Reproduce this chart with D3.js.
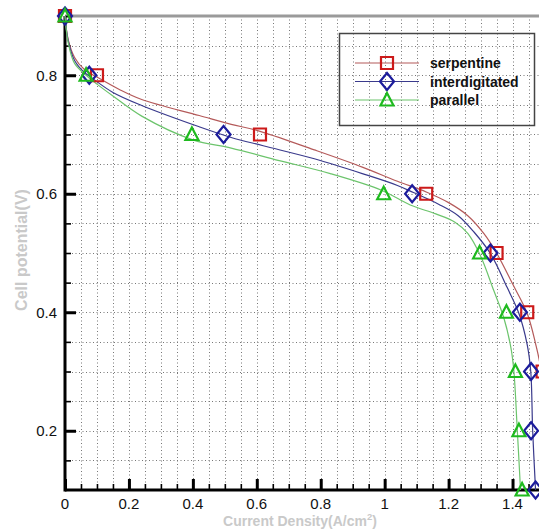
<!DOCTYPE html>
<html>
<head>
<meta charset="utf-8">
<script src="https://cdn.jsdelivr.net/npm/d3@7"></script>
<style>
  html, body { margin: 0; padding: 0; background: #fff; }
  svg { display: block; }
</style>
</head>
<body>
<div id="chart"></div>
<script>
// cell potential levels where markers sit
var markerVolts = [0.9, 0.8, 0.7, 0.6, 0.5, 0.4, 0.3, 0.2, 0.1];
var serpentineJ = [0, 0.10, 0.61, 1.13, 1.35, 1.446, 1.494, 1.53, 1.55];
var interdigitatedJ = [0, 0.076, 0.496, 1.086, 1.331, 1.423, 1.458, 1.458, 1.472];
var parallelJ = [0, 0.066, 0.397, 0.997, 1.297, 1.381, 1.409, 1.42, 1.43];

// curve traces [current density, potential]
var serpentineCurve = [[0, 0.9], [0.01, 0.86], [0.03, 0.83], [0.06, 0.81], [0.1, 0.797], [0.17, 0.776], [0.24, 0.759], [0.42, 0.732], [0.52, 0.717], [0.6, 0.707], [0.78, 0.674], [0.93, 0.645], [1.04, 0.621], [1.13, 0.603], [1.2, 0.585], [1.26, 0.563], [1.31, 0.533], [1.35, 0.5], [1.4, 0.448], [1.446, 0.398], [1.472, 0.347], [1.49, 0.3], [1.505, 0.2], [1.515, 0.1]];
var interdigitatedCurve = [[0, 0.9], [0.01, 0.858], [0.03, 0.825], [0.06, 0.805], [0.085, 0.795], [0.15, 0.771], [0.24, 0.749], [0.42, 0.713], [0.52, 0.695], [0.62, 0.681], [0.78, 0.659], [0.93, 0.634], [1.04, 0.614], [1.09, 0.602], [1.17, 0.582], [1.23, 0.563], [1.28, 0.535], [1.331, 0.499], [1.383, 0.442], [1.42, 0.398], [1.446, 0.345], [1.457, 0.3], [1.463, 0.2], [1.472, 0.1]];
var parallelCurve = [[0, 0.9], [0.01, 0.855], [0.03, 0.82], [0.066, 0.8], [0.1, 0.785], [0.15, 0.765], [0.24, 0.731], [0.4, 0.691], [0.52, 0.677], [0.67, 0.656], [0.83, 0.634], [0.99, 0.606], [1.08, 0.581], [1.16, 0.566], [1.22, 0.552], [1.26, 0.533], [1.3, 0.495], [1.341, 0.437], [1.372, 0.392], [1.395, 0.34], [1.404, 0.302], [1.415, 0.2], [1.425, 0.1]];

var seriesNames = ['serpentine', 'interdigitated', 'parallel'];
var xMajorTicks = [0, 0.2, 0.4, 0.6, 0.8, 1, 1.2, 1.4];
var yMajorTicks = [0.2, 0.4, 0.6, 0.8];
var xTitle = 'Current Density(A/cm';
var yTitle = 'Cell potential(V)';

var width = 539, height = 529;
var x = d3.scaleLinear().domain([0, 1.5]).range([65, 544.5]);
var y = d3.scaleLinear().domain([0.1, 0.9]).range([490, 16]);

var styles = {
    serpentine: { line: '#b45a5a', mark: '#cc1a1a', symbol: 'square', j: serpentineJ, curve: serpentineCurve },
    interdigitated: { line: '#3a3a8c', mark: '#1c1c9c', symbol: 'diamond', j: interdigitatedJ, curve: interdigitatedCurve },
    parallel: { line: '#6cc46c', mark: '#1fba1f', symbol: 'triangle', j: parallelJ, curve: parallelCurve }
};

var svg = d3.select('#chart').append('svg')
    .attr('xmlns', 'http://www.w3.org/2000/svg')
    .attr('width', width)
    .attr('height', height);
svg.append('rect').attr('width', width).attr('height', height).attr('fill', '#fff');

// dotted grid every 0.05
var xGrid = d3.range(0.05, 1.5001, 0.05);
var yGrid = d3.range(0.15, 0.9001, 0.05);
var grid = svg.append('g').attr('stroke', '#777').attr('stroke-width', 1).attr('stroke-dasharray', '1,2.5');
grid.selectAll('line.gx').data(xGrid).enter().append('line')
    .attr('x1', function (d) { return Math.round(x(d)) + 0.5; })
    .attr('x2', function (d) { return Math.round(x(d)) + 0.5; })
    .attr('y1', y(0.9)).attr('y2', y(0.1));
grid.selectAll('line.gy').data(yGrid).enter().append('line')
    .attr('y1', function (d) { return Math.round(y(d)) + 0.5; })
    .attr('y2', function (d) { return Math.round(y(d)) + 0.5; })
    .attr('x1', x(0)).attr('x2', width);

// top frame
svg.append('line').attr('x1', x(0)).attr('x2', width).attr('y1', y(0.9)).attr('y2', y(0.9))
    .attr('stroke', '#9a9a9a').attr('stroke-width', 3);

// axes with inward ticks
var xMinor = d3.range(0.05, 1.5001, 0.05).filter(function (d) { return Math.abs(d * 5 - Math.round(d * 5)) > 1e-6; });
var yMinor = d3.range(0.15, 0.9001, 0.05).filter(function (d) { return Math.abs(d * 5 - Math.round(d * 5)) > 1e-6; });

var xAxisMinor = d3.axisTop(x).tickValues(xMinor).tickSize(6).tickFormat('');
var xAxisMajor = d3.axisTop(x).tickValues(xMajorTicks).tickSize(11).tickFormat('');
var yAxisMinor = d3.axisRight(y).tickValues(yMinor).tickSize(6).tickFormat('');
var yAxisMajor = d3.axisRight(y).tickValues(yMajorTicks).tickSize(11).tickFormat('');

function drawAxis(axis, transform, w) {
    var g = svg.append('g').attr('transform', transform).call(axis);
    g.select('.domain').remove();
    g.selectAll('.tick line').attr('stroke', '#000').attr('stroke-width', w);
    return g;
}
drawAxis(xAxisMinor, 'translate(0,' + y(0.1) + ')', 1.6);
drawAxis(xAxisMajor, 'translate(0,' + y(0.1) + ')', 3);
drawAxis(yAxisMinor, 'translate(' + x(0) + ',0)', 1.6);
drawAxis(yAxisMajor, 'translate(' + x(0) + ',0)', 3);

svg.append('line').attr('x1', x(0)).attr('x2', width).attr('y1', y(0.1)).attr('y2', y(0.1))
    .attr('stroke', '#000').attr('stroke-width', 3);
svg.append('line').attr('x1', x(0)).attr('x2', x(0)).attr('y1', y(0.9)).attr('y2', y(0.1) + 1.5)
    .attr('stroke', '#000').attr('stroke-width', 3);

// tick labels
var font = '"Liberation Sans", Arial, sans-serif';
svg.selectAll('text.xl').data(xMajorTicks).enter().append('text')
    .attr('x', function (d) { return x(d); })
    .attr('y', 509)
    .attr('text-anchor', 'middle')
    .attr('font-family', font).attr('font-size', 15).attr('fill', '#111')
    .text(function (d) { return d3.format('~g')(d); });
svg.selectAll('text.yl').data(yMajorTicks).enter().append('text')
    .attr('x', 57)
    .attr('y', function (d) { return y(d) + 5.5; })
    .attr('text-anchor', 'end')
    .attr('font-family', font).attr('font-size', 15).attr('fill', '#111')
    .text(function (d) { return d3.format('.1f')(d); });

// axis titles
var xt = svg.append('text').attr('x', 300).attr('y', 526).attr('text-anchor', 'middle')
    .attr('font-family', font).attr('font-size', 14).attr('font-weight', 'bold').attr('fill', '#c9c9c9')
    .text(xTitle);
xt.append('tspan').attr('dy', -6).attr('font-size', 9.5).text('2');
xt.append('tspan').attr('dy', 6).text(')');
svg.append('text').attr('transform', 'translate(27,250) rotate(-90)').attr('text-anchor', 'middle')
    .attr('font-family', font).attr('font-size', 16).attr('font-weight', 'bold').attr('fill', '#c9c9c9')
    .text(yTitle);

function symbolPath(kind) {
    if (kind === 'square') return 'M-6,-6H6V6H-6Z';
    if (kind === 'diamond') return 'M0,-8.5L7,0L0,8.5L-7,0Z';
    return 'M0,-7L6.5,5.5H-6.5Z';
}

var line = d3.line()
    .x(function (d) { return x(d[0]); })
    .y(function (d) { return y(d[1]); })
    .curve(d3.curveCatmullRom.alpha(0.5));

seriesNames.forEach(function (name) {
    var s = styles[name];
    svg.append('path').datum(s.curve).attr('d', line)
        .attr('fill', 'none').attr('stroke', s.line).attr('stroke-width', 1.2);
});

seriesNames.forEach(function (name) {
    var s = styles[name];
    var pts = markerVolts.map(function (v, i) { return [s.j[i], v]; });
    svg.selectAll(null).data(pts).enter().append('path')
        .attr('transform', function (d) { return 'translate(' + x(d[0]) + ',' + y(d[1]) + ')'; })
        .attr('d', symbolPath(s.symbol))
        .attr('fill', 'none').attr('stroke', s.mark).attr('stroke-width', 2.2);
});

// legend
var legend = svg.append('g');
legend.append('rect').attr('x', 339.5).attr('y', 33.5).attr('width', 195).attr('height', 92)
    .attr('fill', 'none').attr('stroke', '#444').attr('stroke-width', 1.5);
seriesNames.forEach(function (name, i) {
    var s = styles[name];
    var ly = 63 + i * 18.5;
    legend.append('line').attr('x1', 355).attr('x2', 419).attr('y1', ly).attr('y2', ly)
        .attr('stroke', s.line).attr('stroke-width', 1.2);
    legend.append('path').attr('transform', 'translate(387,' + ly + ')').attr('d', symbolPath(s.symbol))
        .attr('fill', 'none').attr('stroke', s.mark).attr('stroke-width', 2.2);
    legend.append('text').attr('x', 430).attr('y', ly + 5)
        .attr('font-family', font).attr('font-size', 14).attr('font-weight', 'bold').attr('fill', '#111')
        .text(name);
});
</script>
</body>
</html>
